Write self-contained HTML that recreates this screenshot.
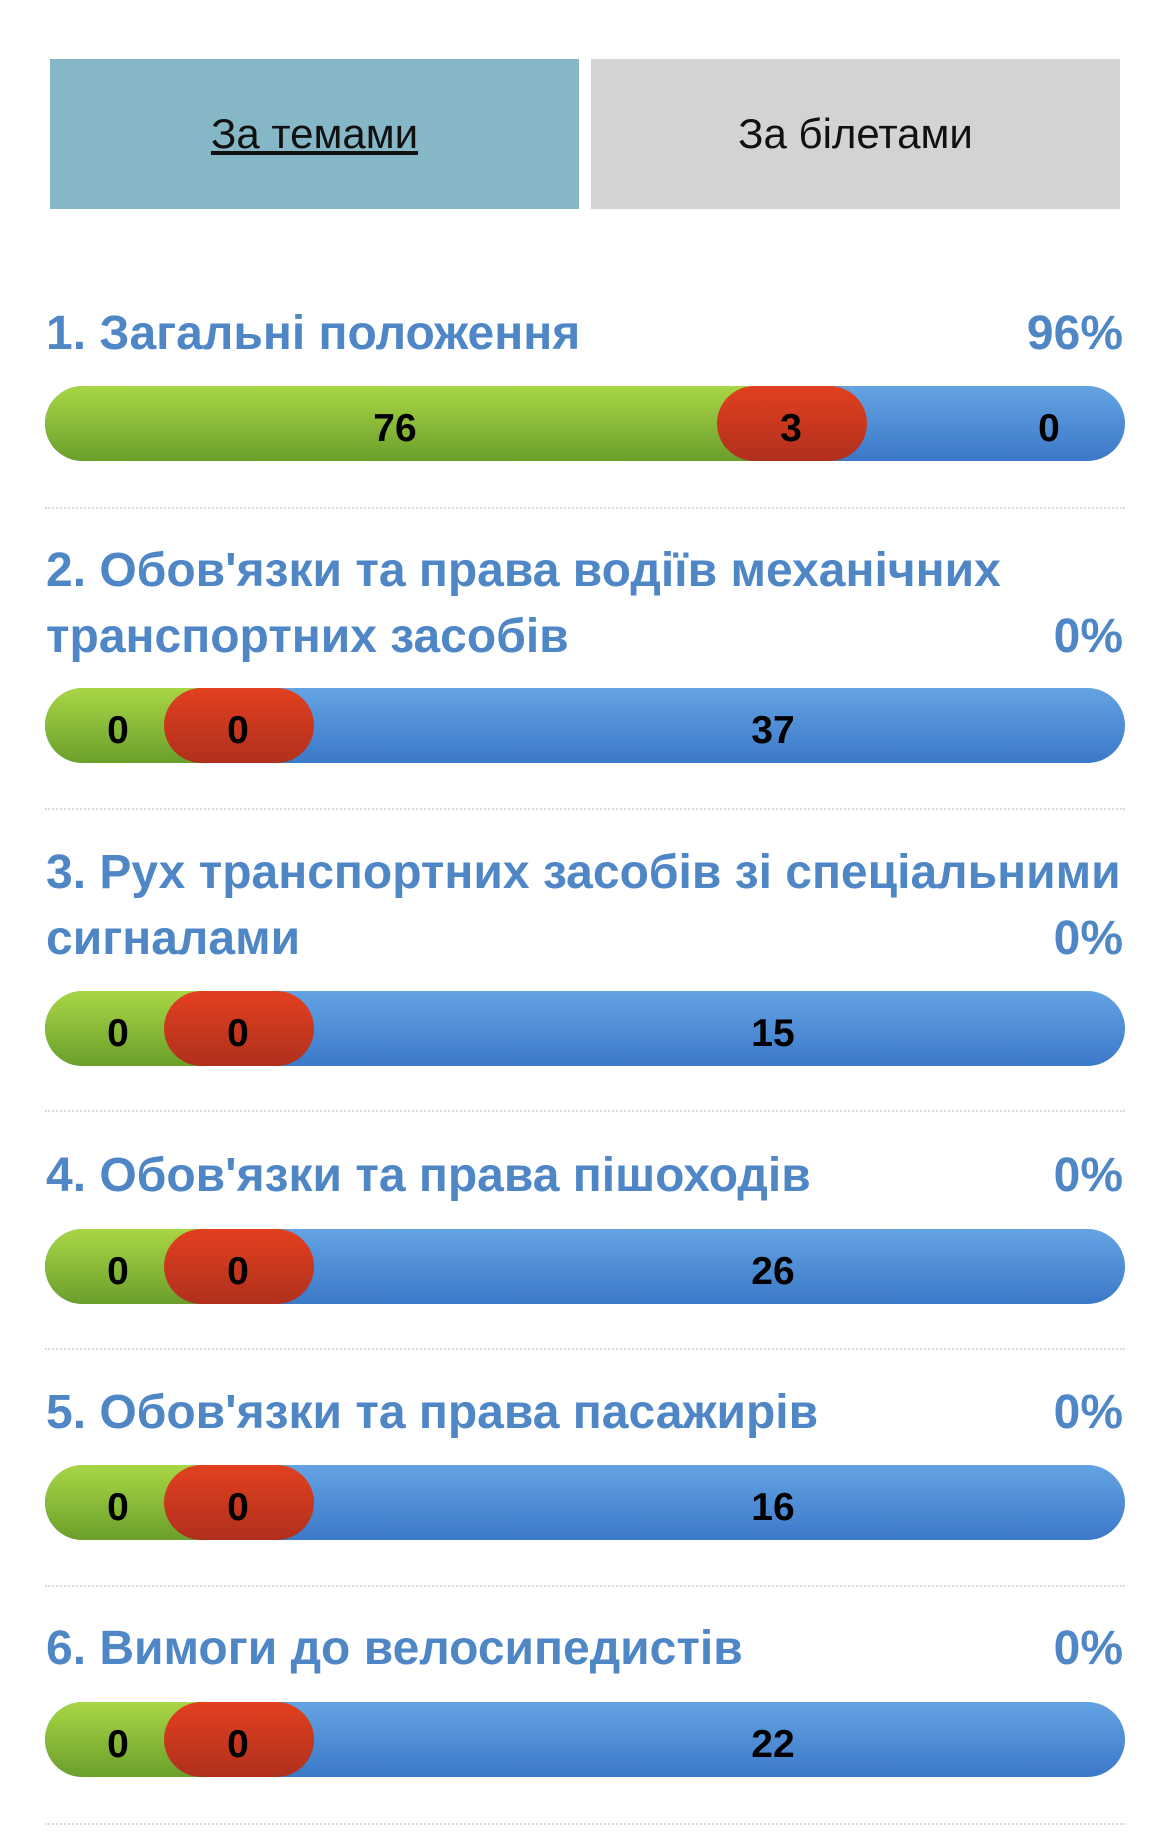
<!DOCTYPE html>
<html><head><meta charset="utf-8"><style>
body{margin:0;width:1170px;height:1839px;background:#fff;font-family:"Liberation Sans","DejaVu Sans",sans-serif;position:relative;overflow:hidden}
.tab{position:absolute;top:59px;height:150px;width:529px;display:flex;align-items:center;justify-content:center;font-size:42px;color:#111}
.h{position:absolute;left:46px;right:47px;font-weight:bold;font-size:48px;color:#4f86c6;line-height:66px;white-space:nowrap}
.h .p{position:absolute;right:0;bottom:0}
.bar{position:absolute;left:45px;width:1080px;height:75px}
.bar div{position:absolute;top:0;height:75px;border-radius:38px}
.b{left:0;width:1080px;background:linear-gradient(#64a3e2,#3b79c9)}
.g{left:0;background:linear-gradient(#a9d646,#6b9f2b)}
.r{width:150px;background:linear-gradient(#e2401f,#b0301d)}
.n{position:absolute;top:19px;font-weight:bold;font-size:39px;color:#000;transform:translateX(-50%);line-height:48px}
.d{position:absolute;left:45px;width:1080px;border-top:2px dotted #ddd}
</style></head><body>
<div class="tab" style="left:50px;background:#86b7c6"><u>За темами</u></div>
<div class="tab" style="left:591px;background:#d3d3d3">За білетами</div>

<div class="h" style="top:301px">1. Загальні положення<span class="p">96%</span></div>
<div class="bar" style="top:386px"><div class="b"></div><div class="g" style="width:780px"></div><div class="r" style="left:672px"></div><span class="n" style="left:350px">76</span><span class="n" style="left:746px">3</span><span class="n" style="left:1004px">0</span></div>
<div class="d" style="top:507px"></div>

<div class="h" style="top:538px">2. Обов'язки та права водіїв механічних<br>транспортних засобів<span class="p">0%</span></div>
<div class="bar" style="top:688px"><div class="b"></div><div class="g" style="width:200px"></div><div class="r" style="left:119px"></div><span class="n" style="left:73px">0</span><span class="n" style="left:193px">0</span><span class="n" style="left:728px">37</span></div>
<div class="d" style="top:808px"></div>

<div class="h" style="top:840px">3. Рух транспортних засобів зі спеціальними<br>сигналами<span class="p">0%</span></div>
<div class="bar" style="top:991px"><div class="b"></div><div class="g" style="width:200px"></div><div class="r" style="left:119px"></div><span class="n" style="left:73px">0</span><span class="n" style="left:193px">0</span><span class="n" style="left:728px">15</span></div>
<div class="d" style="top:1110px"></div>

<div class="h" style="top:1143px">4. Обов'язки та права пішоходів<span class="p">0%</span></div>
<div class="bar" style="top:1229px"><div class="b"></div><div class="g" style="width:200px"></div><div class="r" style="left:119px"></div><span class="n" style="left:73px">0</span><span class="n" style="left:193px">0</span><span class="n" style="left:728px">26</span></div>
<div class="d" style="top:1348px"></div>

<div class="h" style="top:1380px">5. Обов'язки та права пасажирів<span class="p">0%</span></div>
<div class="bar" style="top:1465px"><div class="b"></div><div class="g" style="width:200px"></div><div class="r" style="left:119px"></div><span class="n" style="left:73px">0</span><span class="n" style="left:193px">0</span><span class="n" style="left:728px">16</span></div>
<div class="d" style="top:1585px"></div>

<div class="h" style="top:1616px">6. Вимоги до велосипедистів<span class="p">0%</span></div>
<div class="bar" style="top:1702px"><div class="b"></div><div class="g" style="width:200px"></div><div class="r" style="left:119px"></div><span class="n" style="left:73px">0</span><span class="n" style="left:193px">0</span><span class="n" style="left:728px">22</span></div>
<div class="d" style="top:1823px"></div>
</body></html>
